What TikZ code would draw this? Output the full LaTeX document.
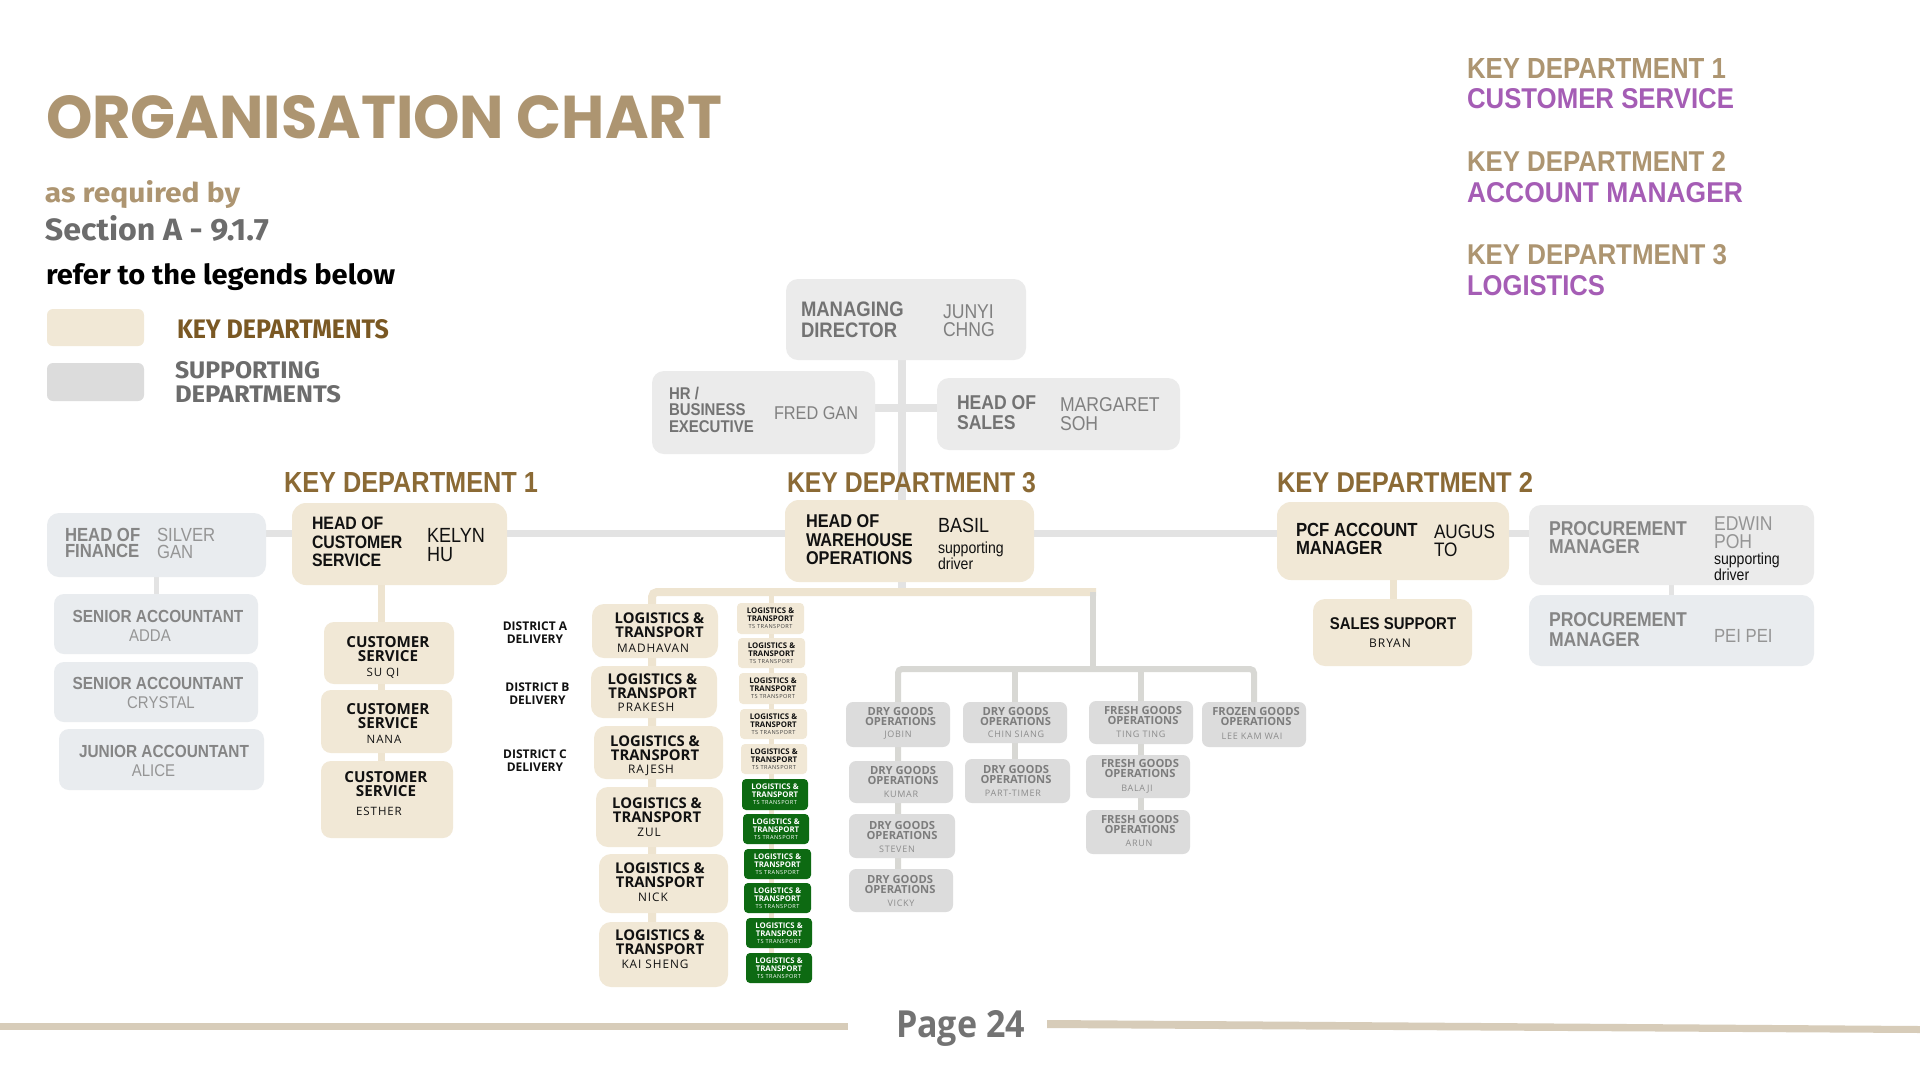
\documentclass[tikz,border=0pt]{standalone}
\usepackage{fontspec}
\usepackage{graphicx}
\usetikzlibrary{fit}
\setmainfont{Liberation Sans}
\newfontfamily\grot[FakeStretch=0.88]{Liberation Sans}
\newfontfamily\opn{Open Sans}
\newfontfamily\opl[LetterSpace=8]{Open Sans}
\newfontfamily\pop{Poppins}
\newfontfamily\fira{Fira Sans}
\newcommand\fitxt[3]{\resizebox{#1pt}{#2pt}{#3}}
\newcommand\fGB[2]{\grot\bfseries\fontsize{#1}{#2}\selectfont}
\newcommand\fGR[2]{\grot\mdseries\fontsize{#1}{#2}\selectfont}
\newcommand\fOB[2]{\opn\bfseries\fontsize{#1}{#2}\selectfont}
\newcommand\fOL[2]{\opl\mdseries\fontsize{#1}{#2}\selectfont}
\definecolor{keyc}{HTML}{F1E8D6}
\definecolor{gryA}{HTML}{EBEBEB}
\definecolor{gryB}{HTML}{E9ECEF}
\definecolor{gryC}{HTML}{DCDCDC}
\definecolor{lnA}{HTML}{E3E3E3}
\definecolor{lnB}{HTML}{D8D8D4}
\definecolor{lnC}{HTML}{EEE4D0}
\definecolor{tanc}{HTML}{AD9571}
\definecolor{purp}{HTML}{A55DB5}
\definecolor{brn}{HTML}{8B6A35}
\definecolor{brnD}{HTML}{7A5823}
\definecolor{txM}{HTML}{737373}
\definecolor{txN}{HTML}{808080}
\definecolor{txF}{HTML}{858585}
\definecolor{txFn}{HTML}{959595}
\definecolor{txS}{HTML}{6C6C6C}
\definecolor{txGd}{HTML}{7D7D7D}
\definecolor{txGn}{HTML}{8C8C8C}
\definecolor{txK}{HTML}{111111}
\definecolor{grn}{HTML}{0D6A12}
\definecolor{pgl}{HTML}{D7CCB9}
\pgfdeclarelayer{back}
\pgfdeclarelayer{bg}
\pgfsetlayers{back,bg,main}
\begin{document}
\begin{tikzpicture}[x=1pt,y=-1pt,
  bx/.style={rounded corners=#1, inner sep=0pt, outer sep=0pt, draw=none},
  keyb/.style={bx=#1, fill=keyc},
  tl/.style={inner sep=0pt, outer sep=0pt, anchor=north west, align=left},
  tc/.style={inner sep=0pt, outer sep=0pt, anchor=north, align=center},
  big/.style={inner sep=0pt, outer sep=0pt, anchor=base west},
  lnmain/.style={draw=lnA, line width=7pt},
  lncream/.style={draw=lnC, line width=7pt},
  lngoods/.style={draw=lnB, line width=6pt, rounded corners=4pt}]
\useasboundingbox (0,0) rectangle (1920,1080);
\begin{pgfonlayer}{back}
\fill[white] (0,0) rectangle (1920,1080);
\end{pgfonlayer}

% ---------- headings and legends ----------
\node[big, text=tanc] (title) at (46,138) {\fitxt{676}{43}{\pop\bfseries ORGANISATION CHART}};
\node[big, text=tanc] (asreq) at (45,202) {\fitxt{195}{22}{\fira\bfseries as required by}};
\node[big, text=txS] (sect) at (45,240) {\fitxt{224}{25}{\fira\bfseries Section A - 9.1.7}};
\node[big, text=black] (refer) at (46,284) {\fitxt{349}{21}{\fira\bfseries refer to the legends below}};
\node[bx=6pt, fill=keyc, fit={(47,309) (144,346)}] (legk) {};
\node[bx=6pt, fill=gryC, fit={(47,363) (144,401)}] (legs) {};
\node[big, text=brnD] (legkt) at (177,338) {\fitxt{212}{19}{\fira\bfseries KEY DEPARTMENTS}};
\node[big, text=txS] (legst) at (175,378) {\fitxt{145}{17}{\fira\bfseries SUPPORTING}};
\node[big, text=txS] (legsu) at (175,402) {\fitxt{166}{17}{\fira\bfseries DEPARTMENTS}};

\node[big, text=tanc] (kd1a) at (1467,78) {\fitxt{259}{20}{\bfseries KEY DEPARTMENT 1}};
\node[big, text=purp] (kd1b) at (1467,108) {\fitxt{267}{20}{\bfseries CUSTOMER SERVICE}};
\node[big, text=tanc] (kd2a) at (1467,171) {\fitxt{259}{20}{\bfseries KEY DEPARTMENT 2}};
\node[big, text=purp] (kd2b) at (1467,202) {\fitxt{276}{20}{\bfseries ACCOUNT MANAGER}};
\node[big, text=tanc] (kd3a) at (1467,264) {\fitxt{260}{20}{\bfseries KEY DEPARTMENT 3}};
\node[big, text=purp] (kd3b) at (1467,295) {\fitxt{138}{20}{\bfseries LOGISTICS}};

\node[big, text=brn] (kd1h) at (284,492) {\fitxt{254}{20}{\bfseries KEY DEPARTMENT 1}};
\node[big, text=brn] (kd3h) at (787,492) {\fitxt{249}{20}{\bfseries KEY DEPARTMENT 3}};
\node[big, text=brn] (kd2h) at (1277,492) {\fitxt{256}{20}{\bfseries KEY DEPARTMENT 2}};

% footer
\fill[pgl] (0,1023) rectangle (848,1030);
\fill[pgl] (1047,1020) -- (1920,1026) -- (1920,1033) -- (1047,1028) -- cycle;
\node[big, text=txM] (page) at (896,1037) {\fitxt{129}{27}{\opn\bfseries Page 24}};

% ---------- top management ----------
\node[bx=12pt, fill=gryA, fit={(786,279) (1026,360)}] (md) {};
\node[tl, text=txM, font={\fGB{21}{21}}] (mdr) at (801,302) {MANAGING\\DIRECTOR};
\node[tl, text=txN, font={\fGR{20}{18}}] (mdn) at (943,305) {JUNYI\\CHNG};

\node[bx=12pt, fill=gryA, fit={(652,371) (875,454)}] (hr) {};
\node[tl, text=txM, font={\fGB{17}{16.5}}] (hrr) at (669,387) {HR /\\BUSINESS\\EXECUTIVE};
\node[tl, text=txN, font={\fGR{18.5}{18}}] (hrn) at (774,407) {FRED GAN};

\node[bx=12pt, fill=gryA, fit={(937,378) (1180,450)}] (sales) {};
\node[tl, text=txM, font={\fGB{20}{19.5}}] (salesr) at (957,396) {HEAD OF\\SALES};
\node[tl, text=txN, font={\fGR{20}{19}}] (salesn) at (1060,398) {MARGARET\\SOH};

% ---------- finance ----------
\node[bx=12pt, fill=gryB, fit={(47,513) (266,577)}] (fin) {};
\node[tl, text=txF, font={\fGB{19}{16.5}}] (finr) at (65,528) {HEAD OF\\FINANCE};
\node[tl, text=txFn, font={\fGR{19}{17}}] (finn) at (157,528) {SILVER\\GAN};

\node[bx=10pt, fill=gryB, fit={(54,594) (258,654)}] (acc1) {};
\node[tc, text=txF, font={\fGB{17.5}{17}}] (acc1r) at (158,610) {SENIOR ACCOUNTANT};
\node[tc, text=txFn, font={\fGR{17}{17}}] (acc1n) at (150,630) {ADDA};
\node[bx=10pt, fill=gryB, fit={(54,662) (258,722)}] (acc2) {};
\node[tc, text=txF, font={\fGB{17.5}{17}}] (acc2r) at (158,677) {SENIOR ACCOUNTANT};
\node[tc, text=txFn, font={\fGR{17}{17}}] (acc2n) at (161,697) {CRYSTAL};
\node[bx=10pt, fill=gryB, fit={(59,729) (264,790)}] (acc3) {};
\node[tc, text=txF, font={\fGB{17.5}{17}}] (acc3r) at (164,745) {JUNIOR ACCOUNTANT};
\node[tc, text=txFn, font={\fGR{17}{17}}] (acc3n) at (153.5,765) {ALICE};

% ---------- key department 1 ----------
\node[keyb=14pt, fit={(292,503) (507,585)}] (hcs) {};
\node[tl, text=txK, font={\fGB{18}{18.5}}] (hcsr) at (312,517) {HEAD OF\\CUSTOMER\\SERVICE};
\node[tl, text=txK, font={\fGR{20.5}{19}}] (hcsn) at (427,528) {KELYN\\HU};

\node[keyb=10pt, fit={(324,622) (454,684)}] (cs1) {};
\node[tc, text=txK, font={\fOB{15.2}{14}}] (cs1r) at (388,636) {CUSTOMER\\SERVICE};
\node[tc, text=txK, font={\fOL{11.5}{11.5}}] (cs1n) at (383,668) {SU QI};
\node[keyb=10pt, fit={(321,690) (452,753)}] (cs2) {};
\node[tc, text=txK, font={\fOB{15.2}{14}}] (cs2r) at (388,703) {CUSTOMER\\SERVICE};
\node[tc, text=txK, font={\fOL{11.5}{11.5}}] (cs2n) at (384,735) {NANA};
\node[keyb=10pt, fit={(321,761) (453,838)}] (cs3) {};
\node[tc, text=txK, font={\fOB{15.2}{14}}] (cs3r) at (386,771) {CUSTOMER\\SERVICE};
\node[tc, text=txK, font={\fOL{11.5}{11.5}}] (cs3n) at (379,807) {ESTHER};

% ---------- key department 3 ----------
\node[keyb=14pt, fit={(785,500) (1034,582)}] (hwo) {};
\node[tl, text=txK, font={\fGB{18.5}{18.5}}] (hwor) at (806,515) {HEAD OF\\WAREHOUSE\\OPERATIONS};
\node[tl, text=txK, font={\fGR{20.5}{19}}] (hwon) at (938,518) {BASIL};
\node[tl, text=txK, font={\fGR{16}{11}}] (hwod) at (938,542) {supporting\\driver};

\node[tc, text=txK, font={\fOB{12}{12.5}}] (da) at (535,622) {DISTRICT A\\DELIVERY};
\node[tc, text=txK, font={\fOB{12}{12.5}}] (db) at (537.5,683) {DISTRICT B\\DELIVERY};
\node[tc, text=txK, font={\fOB{12}{12.5}}] (dc) at (535,750) {DISTRICT C\\DELIVERY};

\foreach \nm/\xa/\ya/\xb/\yb/\tx/\ty/\nx/\ny/\who in {
  lt1/592/604/718/658/659.5/613/653/644/MADHAVAN,
  lt2/591/666/717/718/652.5/674/646/703/PRAKESH,
  lt3/594/726/723/779/655/736/651/765/RAJESH,
  lt4/596/787/723/847/657/798/649/828/ZUL,
  lt5/599/854/728/913/660/863/653/893/NICK,
  lt6/599/922/728/987/660/930/655/960/KAI SHENG} {
  \node[keyb=12pt, fit={(\xa,\ya) (\xb,\yb)}] (\nm) {};
  \node[tc, text=txK, font={\fOB{14.8}{13.4}}] (\nm-r) at (\tx,\ty) {LOGISTICS \&\\TRANSPORT};
  \node[tc, text=txK, font={\fOL{11.8}{12}}] (\nm-n) at (\nx,\ny) {\who};
}

\foreach \nm/\xa/\ya/\xb/\yb in {s1/737/603/804/634, s2/738/638/805/668,
  s3/739/673/807/704, s4/740/709/807/739, s5/741/744/807/774} {
  \node[keyb=4pt, fit={(\xa,\ya) (\xb,\yb)}] (\nm) {};
  \node[tc, text=txK, font={\fOB{7.8}{7.8}}] (\nm-r) at ([yshift=-5pt]\nm.north) {LOGISTICS \&\\TRANSPORT};
  \node[tc, text=black!75, font={\fOL{5.6}{6}}] (\nm-n) at ([yshift=-21pt]\nm.north) {TS TRANSPORT};
}
\foreach \nm/\xa/\ya/\xb/\yb in {s6/742/779/808/810, s7/743/814/809/844,
  s8/744/849/811/879, s9/744/883/811/913, s10/746/918/812/948, s11/746/953/812/983} {
  \node[bx=4pt, fill=grn, fit={(\xa,\ya) (\xb,\yb)}] (\nm) {};
  \node[tc, text=white, font={\fOB{7.8}{7.8}}] (\nm-r) at ([yshift=-5pt]\nm.north) {LOGISTICS \&\\TRANSPORT};
  \node[tc, text=white, font={\fOL{5.6}{6}}] (\nm-n) at ([yshift=-21pt]\nm.north) {TS TRANSPORT};
}

\foreach \nm/\xa/\ya/\xb/\yb/\kind/\tx/\ty/\nx/\ny/\who in {
  jobin/846/702/950/747/DRY/900.5/707/898/731/JOBIN,
  kumar/849/761/953/803/DRY/903/766/901/791/KUMAR,
  steven/849/814/955/858/DRY/902/821/897/846/STEVEN,
  vicky/849/869/953/912/DRY/900/875/901/900/VICKY,
  chin/963/702/1067/743/DRY/1015.5/707/1016/731/CHIN SIANG,
  part/965/759/1070/803/DRY/1016/765/1013/790/PART-TIMER,
  ting/1089/701/1193/744/FRESH/1143/706/1141/731/TING TING,
  balaji/1086/755/1190/798/FRESH/1140/759/1137/785/BALAJI,
  arun/1086/810/1190/854/FRESH/1140/815/1139/840/ARUN,
  lee/1202/702/1306/747/FROZEN/1256/707/1252/733/LEE KAM WAI} {
  \node[bx=7pt, fill=gryC, fit={(\xa,\ya) (\xb,\yb)}] (\nm) {};
  \node[tc, text=txGd, font={\fOB{11.2}{10.5}}] (\nm-r) at (\tx,\ty) {\kind{} GOODS\\OPERATIONS};
  \node[tc, text=txGn, font={\fOL{9}{9}}] (\nm-n) at (\nx,\ny) {\who};
}

% ---------- key department 2 ----------
\node[keyb=14pt, fit={(1277,502) (1509,580)}] (pcf) {};
\node[tl, text=txK, font={\fGB{19}{18}}] (pcfr) at (1296,523) {PCF ACCOUNT\\MANAGER};
\node[tl, text=txK, font={\fGR{19.5}{18}}] (pcfn) at (1434,525) {AUGUS\\TO};

\node[keyb=12pt, fit={(1313,599) (1472,666)}] (ssup) {};
\node[tc, text=txK, font={\fGB{17}{17}}] (ssupr) at (1393,618) {SALES SUPPORT};
\node[tc, text=txK, font={\fOL{12}{12}}] (ssupn) at (1390,639) {BRYAN};

\node[bx=12pt, fill=gryA, fit={(1529,505) (1814,585)}] (edw) {};
\node[tl, text=txF, font={\fGB{20}{18}}] (edwr) at (1549,522) {PROCUREMENT\\MANAGER};
\node[tl, text=txFn, font={\fGR{20}{18}}] (edwn) at (1714,517) {EDWIN\\POH};
\node[tl, text=txK, font={\fGR{16}{11.5}}] (edwd) at (1714,553) {supporting\\driver};

\node[bx=12pt, fill=gryB, fit={(1529,595) (1814,666)}] (pei) {};
\node[tl, text=txF, font={\fGB{20}{20}}] (peir) at (1549,613) {PROCUREMENT\\MANAGER};
\node[tl, text=txFn, font={\fGR{19}{19}}] (pein) at (1714,629) {PEI PEI};

% ---------- connectors ----------
\coordinate (ml) at (0,533);
\coordinate (hsy) at (0,408);
\coordinate (wj) at (902,592);
\coordinate (gj) at (1093,669);
\coordinate (csx) at (381,0);
\coordinate (ltx) at (652,0);
\coordinate (smx) at (771,0);
\begin{pgfonlayer}{bg}
\draw[lnmain, line width=8pt] (wj |- md.south) -- (wj);
\draw[lnmain, line width=8pt] (hr.east |- hsy) -- (sales.west |- hsy);
\draw[lnmain] (fin.east |- ml) -- (edw.west |- ml);
\draw[lnmain, line width=5pt] (fin.south) -- (fin.south |- acc1.north);
\draw[lnmain, line width=5pt] (edw.south) -- (edw.south |- pei.north);
\draw[lncream] (csx |- hcs.south) -- (csx |- cs3.center);
\draw[lncream] (pcf.south) -- (pcf.south |- ssup.north);
\draw[lncream, line width=8pt, rounded corners=5pt] (ltx |- lt6.center) -- (ltx |- wj) -- ([xshift=3pt]gj |- wj);
\draw[lncream, line width=5pt] (smx |- wj) -- (smx |- s11.center);
\draw[lngoods] (gj |- wj) -- (gj);
\draw[lngoods] (jobin |- vicky) -- (jobin |- gj) -- (lee |- gj) -- (lee.north);
\draw[lngoods] (chin |- gj) -- (chin |- part);
\draw[lngoods] (ting |- gj) -- (ting |- arun);
\end{pgfonlayer}
\end{tikzpicture}
\end{document}
